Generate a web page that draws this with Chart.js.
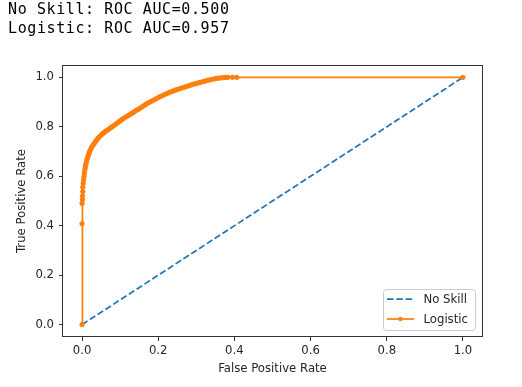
<!DOCTYPE html>
<html>
<head>
<meta charset="utf-8">
<script src="https://cdn.jsdelivr.net/npm/chart.js@4.4.0/dist/chart.umd.min.js"></script>
<style>
  body { margin: 0; background: #fff; }
  #wrap { position: relative; width: 522px; height: 387px; }
  #box { position: absolute; left: 0; top: 0; width: 522px; height: 387px; }
  #out { position: absolute; left: 8px; top: 0; font: 15px "DejaVu Sans Mono", monospace; letter-spacing: 0.6px; line-height: 19.3px; color: #000; white-space: pre; }
</style>
</head>
<body>
<div id="wrap">
  <div id="box"><canvas id="roc"></canvas></div>
  <div id="out"></div>
</div>
<script>
// ROC curve data

const modelNames = ["No Skill", "Logistic"];
const aucScores = [0.500, 0.957];

const noSkillFpr = [0, 1];
const noSkillTpr = [0, 1];

const logisticFpr = [0, 0, 0, 0.001, 0.001, 0.002, 0.002, 0.003, 0.004, 0.005, 0.006, 0.007, 0.008, 0.009, 0.010, 0.012, 0.013, 0.015, 0.016, 0.018, 0.019, 0.021, 0.023, 0.025, 0.027, 0.030, 0.032, 0.035, 0.037, 0.040, 0.042, 0.045, 0.048, 0.051, 0.054, 0.057, 0.060, 0.064, 0.067, 0.071, 0.074, 0.078, 0.082, 0.086, 0.090, 0.094, 0.098, 0.102, 0.106, 0.110, 0.115, 0.120, 0.124, 0.129, 0.133, 0.138, 0.142, 0.147, 0.152, 0.157, 0.162, 0.167, 0.172, 0.178, 0.183, 0.189, 0.194, 0.200, 0.205, 0.211, 0.216, 0.222, 0.228, 0.234, 0.240, 0.246, 0.252, 0.258, 0.264, 0.270, 0.276, 0.282, 0.288, 0.294, 0.300, 0.306, 0.312, 0.318, 0.324, 0.330, 0.336, 0.342, 0.348, 0.354, 0.360, 0.366, 0.372, 0.378, 0.383, 0.395, 0.406, 1.0];
const logisticTpr = [0, 0.408, 0.490, 0.505, 0.520, 0.538, 0.556, 0.571, 0.585, 0.598, 0.610, 0.621, 0.632, 0.641, 0.650, 0.659, 0.668, 0.676, 0.683, 0.690, 0.697, 0.704, 0.710, 0.716, 0.722, 0.728, 0.733, 0.739, 0.744, 0.749, 0.754, 0.759, 0.763, 0.768, 0.772, 0.776, 0.780, 0.784, 0.787, 0.791, 0.795, 0.799, 0.803, 0.808, 0.812, 0.817, 0.822, 0.826, 0.831, 0.835, 0.840, 0.844, 0.848, 0.853, 0.857, 0.862, 0.866, 0.870, 0.875, 0.880, 0.885, 0.890, 0.895, 0.900, 0.904, 0.909, 0.913, 0.918, 0.922, 0.926, 0.930, 0.934, 0.938, 0.942, 0.945, 0.949, 0.952, 0.955, 0.958, 0.961, 0.964, 0.967, 0.970, 0.973, 0.975, 0.978, 0.980, 0.983, 0.985, 0.988, 0.990, 0.992, 0.994, 0.996, 0.997, 0.998, 0.999, 1.0, 1.0, 1.0, 1.0, 1.0];

const xTicks = [0, 0.2, 0.4, 0.6, 0.8, 1.0];
const yTicks = [0, 0.2, 0.4, 0.6, 0.8, 1.0];

// printed scores above the figure
document.getElementById("out").textContent = modelNames
    .map((m, i) => m + ": ROC AUC=" + aucScores[i].toFixed(3))
    .join("\n");

const toPoints = (xs, ys) => xs.map((x, i) => ({ x: x, y: ys[i] }));

const axisFont = { family: "DejaVu Sans", size: 11.7 };
const textColor = "#262626";

// spines + legend box in the lower right, matplotlib style
const frame = {
    id: "frame",
    afterDatasetsDraw(chart) {
        const ctx = chart.ctx;
        const a = chart.chartArea;

        ctx.save();
        ctx.strokeStyle = "#333";
        ctx.lineWidth = 1;
        ctx.strokeRect(Math.round(a.left) - 0.5, Math.round(a.top) + 0.5, Math.round(a.width) + 1, Math.round(a.height) - 1);

        const bw = 92, bh = 41;
        const bx = a.right - 7 - bw;
        const by = a.bottom - 7 - bh;
        ctx.beginPath();
        ctx.roundRect(bx + 0.5, by + 0.5, bw, bh, 3);
        ctx.fillStyle = "rgba(255,255,255,0.8)";
        ctx.fill();
        ctx.strokeStyle = "#cccccc";
        ctx.stroke();

        ctx.font = axisFont.size + "px " + axisFont.family;
        ctx.textBaseline = "middle";
        chart.data.datasets.forEach((ds, i) => {
            const cy = by + 10 + i * 20;
            ctx.beginPath();
            ctx.strokeStyle = ds.borderColor;
            ctx.lineWidth = ds.borderWidth;
            ctx.setLineDash(ds.borderDash || []);
            ctx.moveTo(bx + 4, cy);
            ctx.lineTo(bx + 31, cy);
            ctx.stroke();
            ctx.setLineDash([]);
            if (ds.pointRadius > 0) {
                ctx.beginPath();
                ctx.arc(bx + 17.5, cy, ds.pointRadius, 0, Math.PI * 2);
                ctx.fillStyle = ds.pointBackgroundColor;
                ctx.fill();
            }
            ctx.fillStyle = textColor;
            ctx.fillText(ds.label, bx + 40.5, cy + 0.5);
        });
        ctx.restore();
    }
};

new Chart(document.getElementById("roc"), {

    type: "scatter",

    data: {
        datasets: [
            {
                label: modelNames[0],
                data: toPoints(noSkillFpr, noSkillTpr),
                showLine: true,
                borderColor: "#1f77b4",
                borderWidth: 1.75,
                borderDash: [6.5, 2.8],
                pointRadius: 0,
                order: 1
            },
            {
                label: modelNames[1],
                data: toPoints(logisticFpr, logisticTpr),
                showLine: true,
                borderColor: "#ff7f0e",
                borderWidth: 1.75,
                pointRadius: 2.2,
                pointBorderWidth: 1,
                pointBackgroundColor: "#ff7f0e",
                pointBorderColor: "#ff7f0e",
                order: 0
            }
        ]
    },

    options: {
        responsive: true,
        maintainAspectRatio: false,
        animation: false,
        layout: { padding: { top: 65, right: 40, left: 0, bottom: 0 } },
        plugins: {
            legend: { display: false },
            tooltip: { enabled: false }
        },
        scales: {
            x: {
                type: "linear",
                min: -0.05,
                max: 1.05,
                afterBuildTicks: s => { s.ticks = xTicks.map(v => ({ value: v })); },
                afterFit: s => { s.height = 50; },
                grid: { drawOnChartArea: false, drawTicks: true, tickLength: 4, color: "#333" },
                border: { display: false },
                ticks: {
                    color: textColor,
                    font: axisFont,
                    padding: 3,
                    autoSkip: false,
                    maxRotation: 0,
                    callback: v => v.toFixed(1)
                },
                title: {
                    display: true,
                    text: "False Positive Rate",
                    color: textColor,
                    font: axisFont,
                    padding: { top: 0, bottom: 11 }
                }
            },
            y: {
                type: "linear",
                min: -0.05,
                max: 1.05,
                afterBuildTicks: s => { s.ticks = yTicks.map(v => ({ value: v })); },
                afterFit: s => { s.width = 63; },
                grid: { drawOnChartArea: false, drawTicks: true, tickLength: 4, color: "#333" },
                border: { display: false },
                ticks: {
                    color: textColor,
                    font: axisFont,
                    padding: 5,
                    autoSkip: false,
                    callback: v => v.toFixed(1)
                },
                title: {
                    display: true,
                    text: "True Positive Rate",
                    color: textColor,
                    font: axisFont,
                    padding: { top: 14.7, bottom: 0 }
                }
            }
        }
    },

    plugins: [frame]

});
</script>
</body>
</html>
